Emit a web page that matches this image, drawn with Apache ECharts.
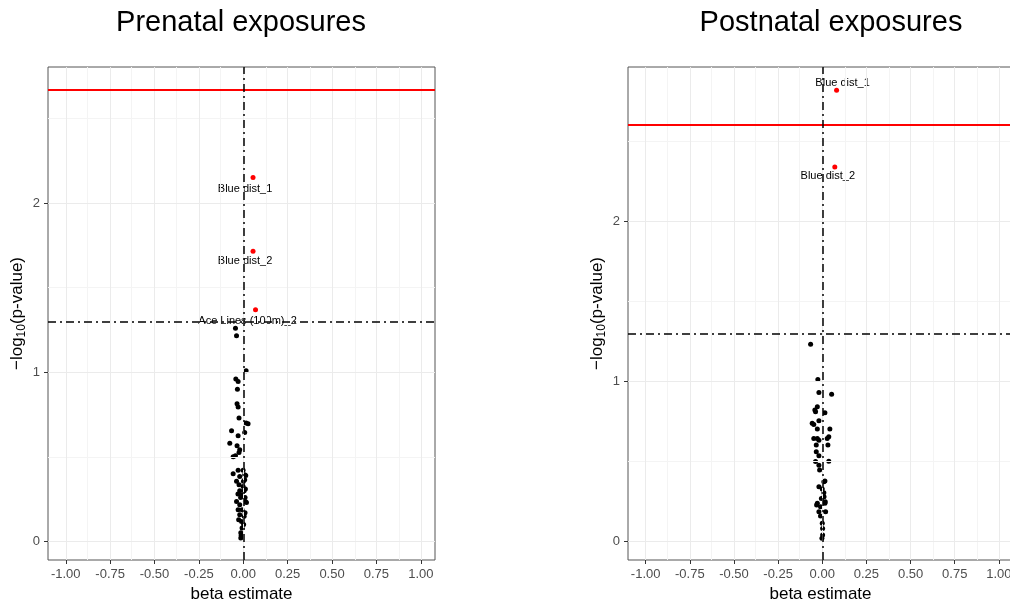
<!DOCTYPE html>
<html>
<head>
<meta charset="utf-8">
<script src="https://cdn.jsdelivr.net/npm/echarts@6/dist/echarts.min.js"></script>
<style>
  html, body { margin: 0; padding: 0; background: #fff; }
  #chart { width: 1010px; height: 603px; }
</style>
</head>
<body>
<div id="chart"></div>
<script>
// axis ticks and grid breaks
const xTicks = [-1, -0.75, -0.5, -0.25, 0, 0.25, 0.5, 0.75, 1]
const xMinor = [-0.875, -0.625, -0.375, -0.125, 0.125, 0.375, 0.625, 0.875]
const yTicks = [0, 1, 2]
const yMinor = [0.5, 1.5, 2.5]

// thresholds: [bonferroni line, p = 0.05 line]
const prenatalThresholds = [2.674, 1.301]
const postnatalThresholds = [2.6, 1.301]

// prenatal exposures
const prenatalBeta = [
  -0.044, -0.038, 0.016, -0.042, -0.029, -0.033, -0.035, -0.029, -0.024, 0.016,
  0.027, -0.066, 0.008, -0.029, -0.076, -0.035, -0.020, -0.024, -0.044, -0.057,
  -0.057, -0.029, -0.001, 0.008, 0.014, -0.020, -0.038, 0.001, 0.008, -0.024,
  -0.001, -0.020, 0.005, 0.012, -0.010, -0.038, 0.012, 0.018, -0.020, -0.029,
  -0.007, -0.020, 0.005, -0.026, -0.010, 0.002, -0.007, -0.014, -0.014, -0.012,
  0.010, -0.015, 0.010, -0.030
]
const prenatalLogP = [
  1.261, 1.216, 1.009, 0.960, 0.946, 0.900, 0.814, 0.794, 0.729, 0.700,
  0.696, 0.654, 0.644, 0.625, 0.581, 0.566, 0.542, 0.526, 0.506, 0.500,
  0.400, 0.420, 0.420, 0.394, 0.390, 0.384, 0.355, 0.355, 0.365, 0.335,
  0.325, 0.300, 0.300, 0.310, 0.276, 0.236, 0.236, 0.230, 0.217, 0.187,
  0.187, 0.158, 0.148, 0.128, 0.118, 0.100, 0.079, 0.051, 0.020, 0.035,
  0.170, 0.260, 0.260, 0.280
]
const prenatalHitNames = ['Blue dist_1', 'Blue dist_2', 'Ace Lines (100m)_2']
const prenatalHitBeta = [0.055, 0.055, 0.069]
const prenatalHitLogP = [2.151, 1.716, 1.369]

// postnatal exposures
const postnatalBeta = [
  -0.066, -0.025, -0.019, 0.053, -0.028, -0.042, -0.038, 0.015, -0.019, -0.048,
  -0.057, -0.028, 0.043, 0.037, -0.028, -0.048, -0.019, 0.028, -0.034, 0.032,
  -0.034, -0.019, 0.037, -0.038, -0.019, -0.015, 0.015, 0.009, -0.019, 0.000,
  0.009, -0.028, -0.032, 0.015, 0.017, -0.010, -0.019, 0.019, -0.010, 0.000,
  0.002, 0.002, -0.002, -0.005, 0.010
]
const postnatalLogP = [
  1.233, 1.013, 0.932, 0.921, 0.842, 0.822, 0.811, 0.805, 0.755, 0.732,
  0.739, 0.703, 0.703, 0.655, 0.645, 0.645, 0.634, 0.645, 0.603, 0.603,
  0.561, 0.537, 0.503, 0.500, 0.478, 0.447, 0.379, 0.374, 0.343, 0.329,
  0.306, 0.240, 0.229, 0.240, 0.250, 0.218, 0.187, 0.187, 0.160, 0.115,
  0.083, 0.042, 0.021, 0.270, 0.280
]
const postnatalHitNames = ['Blue dist_1', 'Blue dist_2']
const postnatalHitBeta = [0.081, 0.071]
const postnatalHitLogP = [2.818, 2.339]

// label placement for the highlighted points (pixels)
const prenatalLabelOffsets = [[-8, 11], [-8, 10], [-8, 11]]
const postnatalLabelOffsets = [[6, -7], [-7, 9]]

const FONT = '"Liberation Sans", Arial, sans-serif'
const dotDash = [8, 4, 2, 4]

const chart = echarts.init(document.getElementById('chart'), null, { renderer: 'canvas' })

const zip = (xs, ys) => xs.map((x, i) => [x, ys[i]])

const makeAxes = (idx) => {
  const xAxis = {
    type: 'value',
    gridIndex: idx,
    min: -1.1,
    max: 1.08,
    name: 'beta estimate',
    nameLocation: 'middle',
    nameGap: 24,
    nameTextStyle: { fontSize: 17, color: '#000', fontFamily: FONT },
    axisLine: { show: false, onZero: false },
    axisTick: { show: true, length: 4, lineStyle: { color: '#333' }, customValues: xTicks },
    axisLabel: {
      customValues: xTicks,
      formatter: (v) => Number(v).toFixed(2),
      fontSize: 13,
      color: '#4d4d4d',
      fontFamily: FONT,
      margin: 8
    },
    splitLine: { show: false }
  }
  const yAxis = {
    type: 'value',
    gridIndex: idx,
    min: idx === 0 ? -0.11 : -0.114,
    max: idx === 0 ? 2.805 : 2.963,
    name: '−log{sub|10}(p-value)',
    nameLocation: 'middle',
    nameGap: 20,
    nameTextStyle: {
      fontSize: 17,
      color: '#000',
      fontFamily: FONT,
      rich: {
        sub: { fontSize: 12, fontFamily: FONT, color: '#000', verticalAlign: 'bottom', lineHeight: 22 }
      }
    },
    axisLine: { show: false, onZero: false },
    axisTick: { show: true, length: 4, lineStyle: { color: '#333' }, customValues: yTicks },
    axisLabel: {
      customValues: yTicks,
      fontSize: 13,
      color: '#4d4d4d',
      fontFamily: FONT,
      margin: 8
    },
    splitLine: { show: false }
  }
  return { xAxis, yAxis }
}

const gridSeries = (idx) => ({
  type: 'line',
  xAxisIndex: idx,
  yAxisIndex: idx,
  data: [],
  silent: true,
  z: 1,
  markLine: {
    silent: true,
    symbol: 'none',
    animation: false,
    label: { show: false },
    data: [
      ...xMinor.map(v => ({ xAxis: v, lineStyle: { color: '#f4f4f4', width: 1, type: 'solid' } })),
      ...yMinor.map(v => ({ yAxis: v, lineStyle: { color: '#f4f4f4', width: 1, type: 'solid' } })),
      ...xTicks.map(v => ({ xAxis: v, lineStyle: { color: '#ebebeb', width: 1, type: 'solid' } })),
      ...yTicks.map(v => ({ yAxis: v, lineStyle: { color: '#ebebeb', width: 1, type: 'solid' } }))
    ]
  }
})

const thresholdSeries = (idx, thr) => ({
  type: 'line',
  xAxisIndex: idx,
  yAxisIndex: idx,
  data: [],
  silent: true,
  z: 2,
  markLine: {
    silent: true,
    symbol: 'none',
    animation: false,
    label: { show: false },
    data: [
      { yAxis: thr[0], lineStyle: { color: '#ff0000', width: 2, type: 'solid', opacity: 1 } },
      { yAxis: thr[1], lineStyle: { color: '#000', width: 1.5, type: dotDash, opacity: 1 } },
      { xAxis: 0, lineStyle: { color: '#000', width: 1.5, type: dotDash, opacity: 1 } }
    ]
  }
})

const pointSeries = (idx, xs, ys) => ({
  type: 'scatter',
  xAxisIndex: idx,
  yAxisIndex: idx,
  symbolSize: 5,
  itemStyle: { color: '#000', opacity: 1 },
  z: 3,
  data: zip(xs, ys)
})

const hitSeries = (idx, names, xs, ys, offsets) => ({
  type: 'scatter',
  xAxisIndex: idx,
  yAxisIndex: idx,
  symbolSize: 5,
  itemStyle: { color: '#ff0000', opacity: 1 },
  z: 4,
  label: {
    show: true,
    position: 'inside',
    formatter: '{b}',
    fontSize: 11,
    color: '#000',
    fontFamily: FONT
  },
  data: names.map((n, i) => ({
    name: n,
    value: [xs[i], ys[i]],
    label: { offset: offsets[i] }
  }))
})

const left = makeAxes(0)
const right = makeAxes(1)

const titleStyle = { fontSize: 29, fontWeight: 'normal', color: '#000', fontFamily: FONT }

const option = {
  animation: false,
  backgroundColor: '#fff',
  title: [
    { text: 'Prenatal exposures', left: 236, top: 3, textAlign: 'center', textStyle: titleStyle },
    { text: 'Postnatal exposures', left: 826, top: 3, textAlign: 'center', textStyle: titleStyle }
  ],
  grid: [
    {
      left: 48, top: 67, width: 387, height: 493,
      show: true, borderColor: '#555', borderWidth: 1, backgroundColor: 'transparent',
      outerBoundsMode: 'none', containLabel: false
    },
    {
      left: 628, top: 67, width: 385, height: 493,
      show: true, borderColor: '#555', borderWidth: 1, backgroundColor: 'transparent',
      outerBoundsMode: 'none', containLabel: false
    }
  ],
  xAxis: [left.xAxis, right.xAxis],
  yAxis: [left.yAxis, right.yAxis],
  series: [
    gridSeries(0),
    gridSeries(1),
    thresholdSeries(0, prenatalThresholds),
    thresholdSeries(1, postnatalThresholds),
    pointSeries(0, prenatalBeta, prenatalLogP),
    pointSeries(1, postnatalBeta, postnatalLogP),
    hitSeries(0, prenatalHitNames, prenatalHitBeta, prenatalHitLogP, prenatalLabelOffsets),
    hitSeries(1, postnatalHitNames, postnatalHitBeta, postnatalHitLogP, postnatalLabelOffsets)
  ]
}

chart.setOption(option)
</script>
</body>
</html>
